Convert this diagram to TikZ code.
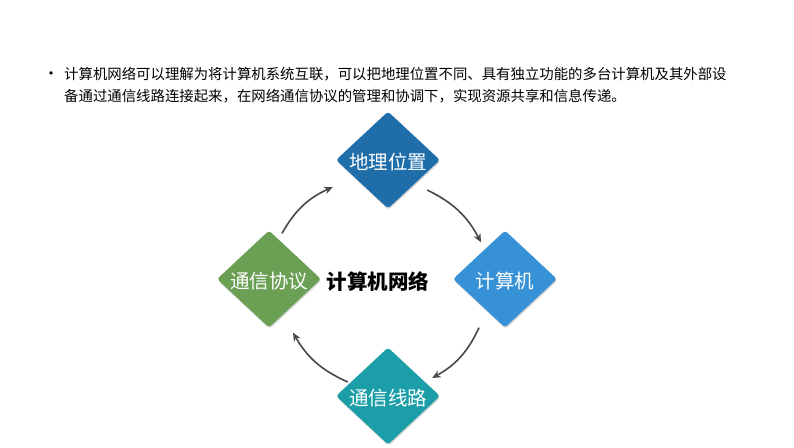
\documentclass[tikz,border=0pt]{standalone}
\usepackage{fontspec}
\setmainfont{Noto Sans CJK SC}
\newfontfamily\dejavu{DejaVu Sans}
\usetikzlibrary{shapes.geometric,shadows,arrows.meta}
\definecolor{dili}{RGB}{31,110,170}
\definecolor{jisuanji}{RGB}{55,145,215}
\definecolor{xianlu}{RGB}{28,158,168}
\definecolor{xieyi}{RGB}{106,159,84}
\definecolor{jiantou}{RGB}{72,72,72}
\tikzset{
	block/.style={diamond, aspect=1.07, rounded corners=3pt, inner sep=0pt,
		minimum width=104pt, minimum height=97pt, text=white,
		text height=19pt, text depth=0pt,
		font=\fontsize{19.5}{20}\selectfont,
		drop shadow={shadow xshift=.6pt, shadow yshift=-1.5pt, opacity=.35}},
	flow/.style={-{Stealth[length=8.5pt, width=7.5pt]}, line width=1.6pt, draw=jiantou},
	shuoming/.style={anchor=west, inner sep=0pt, font=\fontsize{14.4}{15}\selectfont},
}
\begin{document}
\begin{tikzpicture}[x=1pt, y=1pt]
	\useasboundingbox[fill=white] (0, 0) rectangle (794, 447);

		\node[anchor=base, inner sep=0pt, font=\dejavu\fontsize{11}{11}\selectfont] (dian) at(51, 369){•};
		\node[shuoming] (hang1) at(64, 373){计算机网络可以理解为将计算机系统互联，可以把地理位置不同、具有独立功能的多台计算机及其外部设};
		\node[shuoming] (hang2) at(64, 351){备通过通信线路连接起来，在网络通信协议的管理和协调下，实现资源共享和信息传递。};

		\node[block, fill=dili] (dili) at(388, 287){地理位置};
		\node[block, fill=jisuanji] (jisuanji) at(505, 168){计算机};
		\node[block, fill=xianlu] (xianlu) at(388, 51){通信线路};
		\node[block, fill=xieyi] (xieyi) at(269, 168){通信协议};

		\node[font=\fontsize{20.5}{21}\selectfont\bfseries] (wangluo) at(378, 165){计算机网络};

		\draw[flow] ([shift={(13,-3)}]xieyi.north) to[bend left=18] ([shift={(-3,-27)}]dili.west);
		\draw[flow] ([shift={(-13,-30)}]dili.east) to[bend left=18] ([shift={(-24,-12)}]jisuanji.north);
		\draw[flow] ([shift={(-26,0)}]jisuanji.south) to[bend left=18] ([shift={(-8,18)}]xianlu.east);
		\draw[flow] ([shift={(12,14)}]xianlu.west) to[bend left=18] ([shift={(24,-5)}]xieyi.south);
\end{tikzpicture}
\end{document}
